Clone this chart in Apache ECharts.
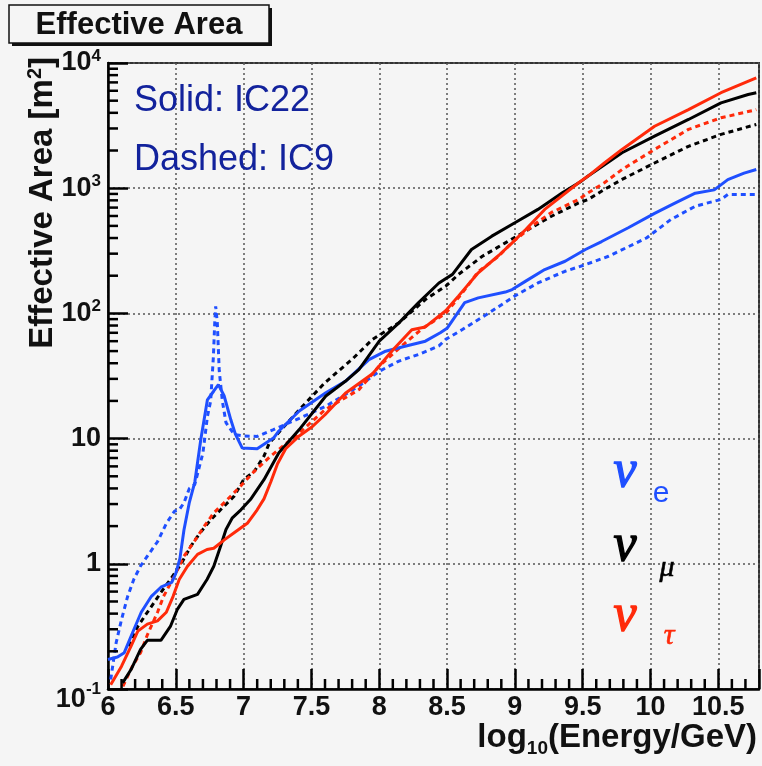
<!DOCTYPE html>
<html><head><meta charset="utf-8">
<script src="https://cdn.jsdelivr.net/npm/echarts@6/dist/echarts.min.js"></script>
<style>html,body{margin:0;padding:0;background:#f5f5f5;}#c{width:762px;height:766px;}</style>
</head><body><div id="c"></div>
<script>
// ---- data (log10(E/GeV), effective area m^2) ----
const IC22_nue = [[6.0,0.172],[6.07,0.18],[6.12,0.195],[6.18,0.28],[6.245,0.41],[6.32,0.55],[6.39,0.65],[6.47,0.71],[6.5,0.84],[6.53,1.1],[6.56,1.86],[6.6,3.1],[6.64,4.5],[6.684,9.8],[6.733,20.4],[6.78,24],[6.814,27],[6.856,22],[6.905,14.2],[6.94,10.8],[6.99,8.4],[7.1,8.3],[7.22,10.1],[7.26,11.5],[7.41,16.6],[7.606,23.2],[7.75,28.7],[7.924,42.7],[8.047,49.9],[8.19,54.7],[8.34,60],[8.45,70],[8.5,76],[8.63,122],[8.73,133],[8.93,148],[8.98,155],[9.08,181],[9.22,224],[9.37,261],[9.52,324],[9.64,375],[9.836,483],[10.03,630],[10.18,760],[10.33,913],[10.47,970],[10.57,1170],[10.69,1320],[10.78,1410]];
const IC9_nue = [[6.02,0.119],[6.06,0.234],[6.1,0.36],[6.145,0.55],[6.19,0.75],[6.24,0.96],[6.29,1.15],[6.365,1.5],[6.43,2.1],[6.49,2.63],[6.525,2.7],[6.56,3.07],[6.6,4.0],[6.64,4.3],[6.7,7.7],[6.733,15],[6.757,20],[6.777,45],[6.787,84],[6.794,114],[6.806,84],[6.82,35],[6.843,20],[6.87,13.4],[6.93,10.8],[7.0,10.5],[7.1,10.4],[7.22,11.8],[7.41,14.5],[7.6,18],[7.75,22.5],[7.85,26.3],[8.0,34.5],[8.145,41.6],[8.29,47],[8.44,55],[8.49,62],[8.61,74],[8.81,101],[9.0,138],[9.17,175],[9.37,217],[9.52,245],[9.69,286],[9.97,400],[10.15,562],[10.33,718],[10.47,787],[10.52,813],[10.57,890],[10.78,890]];
const IC22_numu = [[6.108,0.112],[6.17,0.143],[6.24,0.207],[6.29,0.245],[6.39,0.245],[6.46,0.316],[6.51,0.43],[6.56,0.52],[6.66,0.57],[6.73,0.75],[6.78,0.955],[6.83,1.38],[6.87,1.88],[6.917,2.33],[6.98,2.7],[7.05,3.26],[7.15,4.7],[7.26,7.7],[7.41,11.8],[7.606,21.9],[7.75,28.7],[7.85,35.5],[8.0,60],[8.145,84],[8.29,122],[8.44,175],[8.54,205],[8.68,324],[8.83,414],[9.0,529],[9.17,677],[9.35,918],[9.49,1138],[9.54,1250],[9.79,1918],[10.03,2602],[10.28,3540],[10.52,4800],[10.72,5600],[10.78,5790]];
const IC9_numu = [[6.15,0.22],[6.22,0.316],[6.29,0.41],[6.34,0.49],[6.39,0.59],[6.46,0.75],[6.54,1.0],[6.61,1.38],[6.68,1.77],[6.76,2.26],[6.83,2.7],[6.93,3.47],[7.0,4.7],[7.08,5.5],[7.15,7.25],[7.19,9.25],[7.41,17],[7.6,28],[7.8,43],[7.95,62],[8.145,84],[8.34,129],[8.49,165],[8.585,205],[8.76,286],[8.93,366],[9.1,468],[9.27,597],[9.47,763],[9.54,813],[9.66,977],[9.79,1175],[10.03,1590],[10.28,2160],[10.52,2690],[10.78,3230]];
const IC22_nutau = [[6.02,0.108],[6.1,0.152],[6.17,0.22],[6.22,0.29],[6.29,0.33],[6.365,0.35],[6.43,0.41],[6.48,0.55],[6.525,0.75],[6.586,0.955],[6.66,1.19],[6.73,1.3],[6.78,1.33],[6.86,1.56],[6.93,1.77],[7.03,2.12],[7.1,2.7],[7.15,3.3],[7.2,4.5],[7.25,6.3],[7.31,8.3],[7.41,10.5],[7.5,12.3],[7.6,15.5],[7.75,23],[7.95,33],[8.0,38],[8.1,51],[8.24,74],[8.34,78],[8.49,105],[8.585,138],[8.73,211],[8.88,290],[8.98,366],[9.08,468],[9.22,677],[9.47,1105],[9.54,1250],[9.66,1590],[9.79,2040],[10.03,3125],[10.28,4240],[10.52,5790],[10.78,7600]];
const IC9_nutau = [[6.11,0.105],[6.18,0.152],[6.24,0.195],[6.29,0.27],[6.365,0.41],[6.41,0.55],[6.49,0.8],[6.56,1.15],[6.635,1.5],[6.71,2.0],[6.78,2.55],[6.88,3.26],[6.98,4.2],[7.08,5.5],[7.2,7.25],[7.41,11.1],[7.6,17],[7.85,24.6],[8.0,38],[8.19,58],[8.32,76],[8.49,100],[8.6,140],[8.73,215],[8.88,286],[8.98,370],[9.08,450],[9.15,520],[9.27,640],[9.47,813],[9.54,918],[9.66,1105],[9.79,1410],[10.03,2040],[10.28,2950],[10.52,3650],[10.78,4240]];

const xMin = 6, xMax = 10.8, xStep = 0.5;
const yMin = 0.1, yMax = 10000;
const yTickLabels = {'-1':'{lb|10}{ls|-1}', '0':'{b|1}', '1':'{b|10}', '2':'{b|10}{s|2}', '3':'{b|10}{s|3}', '4':'{b|10}{s|4}'};

// minor tick values (in data units)
const xMinor = [];
for (let i = 61; i < 108; i++) { if (i % 5 !== 0) xMinor.push(i / 10); }
const yMinor = [];
for (let d = -1; d < 4; d++) for (let k = 2; k <= 9; k++) yMinor.push(k * Math.pow(10, d));

const BLUE = '#1f4fff', RED = '#ff2a0a', BLACK = '#000000';
const FONT = 'Liberation Sans, Arial, Helvetica, sans-serif';
const SERIF = 'Liberation Serif, Times New Roman, serif';

const chart = echarts.init(document.getElementById('c'), null, {renderer: 'canvas'});
function line(name, data, color, dashed) {
  return {name, type: 'line', data, showSymbol: false, symbol: 'none',
    silent: true, animation: false, clip: true,
    lineStyle: {color, width: 3, type: dashed ? [5, 4] : 'solid'}, z: dashed ? 3 : 4};
}
const gridDot = {color: '#555', width: 1.5, type: [2, 3]};
const LB = {fontWeight: 'bold', fontFamily: FONT, color: '#111'};
function nu(x, y, color) {
  return {type: 'text', x, y, z: 12, style: {text: 'ν', font: 'italic 52px ' + SERIF, fill: color, stroke: color, lineWidth: 1.3, align: 'center', verticalAlign: 'middle'}};
}
const baseGraphics = [
  {type: 'rect', shape: {x: 12, y: 8, width: 260, height: 38}, style: {fill: '#111'}, z: 10},
  {type: 'rect', shape: {x: 9, y: 5, width: 260, height: 38}, style: {fill: '#f5f5f5', stroke: '#111', lineWidth: 1.5}, z: 11},
  {type: 'text', x: 139, y: 25, z: 12, style: {text: 'Effective Area', font: 'bold 31px ' + FONT, fill: '#111', align: 'center', verticalAlign: 'middle'}},
  {type: 'text', x: 43, y: 57, rotation: Math.PI / 2, z: 12, style: {
    text: '{t|Effective Area [m}{s|2}{t|]}', align: 'right', verticalAlign: 'middle',
    rich: {t: {font: 'bold 33px ' + FONT, fill: '#111'}, s: {font: 'bold 20px ' + FONT, fill: '#111', padding: [0, 0, 16, 0]}}}},
  {type: 'text', x: 757, y: 738, z: 12, style: {
    text: '{t|log}{s|10}{t|(Energy/GeV)}', align: 'right', verticalAlign: 'middle',
    rich: {t: {font: 'bold 33px ' + FONT, fill: '#111'}, s: {font: 'bold 19px ' + FONT, fill: '#111', padding: [22, 0, 0, 0]}}}},
  {type: 'text', x: 134, y: 101, z: 12, style: {text: 'Solid: IC22', font: '36px ' + FONT, fill: '#12229c', align: 'left', verticalAlign: 'middle'}},
  {type: 'text', x: 134, y: 160, z: 12, style: {text: 'Dashed: IC9', font: '36px ' + FONT, fill: '#12229c', align: 'left', verticalAlign: 'middle'}},
  nu(625, 472, BLUE),
  {type: 'text', x: 661, y: 494, z: 12, style: {text: 'e', font: '30px ' + FONT, fill: BLUE, align: 'center', verticalAlign: 'middle'}},
  nu(625, 546, BLACK),
  {type: 'text', x: 667, y: 568, z: 12, style: {text: 'μ', font: 'italic 30px ' + SERIF, fill: BLACK, stroke: BLACK, lineWidth: 0.6, align: 'center', verticalAlign: 'middle'}},
  nu(625, 616, RED),
  {type: 'text', x: 669, y: 636, z: 12, style: {text: 'τ', font: 'italic 30px ' + SERIF, fill: RED, stroke: RED, lineWidth: 0.6, align: 'center', verticalAlign: 'middle'}}
];

chart.setOption({
  backgroundColor: '#f5f5f5',
  animation: false,
  grid: {left: 108, right: 3, top: 63, bottom: 77, show: true, borderColor: '#333', borderWidth: 2, backgroundColor: 'transparent'},
  xAxis: {
    type: 'value', min: xMin, max: xMax, interval: xStep,
    axisLine: {show: true, onZero: false, lineStyle: {color: '#000', width: 2.5}},
    axisTick: {show: true, inside: true, length: 20, lineStyle: {color: '#000', width: 2.5}},
    splitLine: {show: true, lineStyle: gridDot},
    axisLabel: {margin: 5, color: '#111', fontFamily: FONT, fontWeight: 'bold', fontSize: 27,
      formatter: v => (Math.abs(v * 2 - Math.round(v * 2)) < 1e-6 && v < xMax - 0.01) ? String(v) : ''}
  },
  yAxis: {
    type: 'log', logBase: 10, min: yMin, max: yMax,
    axisLine: {show: true, onZero: false, lineStyle: {color: '#000', width: 2.5}},
    axisTick: {show: true, inside: true, length: 20, lineStyle: {color: '#000', width: 2.5}},
    splitLine: {show: true, lineStyle: gridDot},
    axisLabel: {margin: 7, color: '#111', fontFamily: FONT, fontWeight: 'bold',
      formatter: v => yTickLabels[String(Math.round(Math.log10(v)))] || '',
      rich: {
        b: Object.assign({fontSize: 27}, LB),
        s: Object.assign({fontSize: 17, padding: [0, 0, 14, 0]}, LB),
        lb: Object.assign({fontSize: 27, padding: [22, 0, 0, 0]}, LB),
        ls: Object.assign({fontSize: 17}, LB)
      }}
  },
  series: [
    line('IC9 nu_e', IC9_nue, BLUE, true),
    line('IC9 nu_mu', IC9_numu, BLACK, true),
    line('IC9 nu_tau', IC9_nutau, RED, true),
    line('IC22 nu_e', IC22_nue, BLUE, false),
    line('IC22 nu_mu', IC22_numu, BLACK, false),
    line('IC22 nu_tau', IC22_nutau, RED, false)
  ]
});

// minor ticks placed through the chart's own axis scales
const bottomY = chart.convertToPixel({yAxisIndex: 0}, yMin);
const leftX = chart.convertToPixel({xAxisIndex: 0}, xMin);
const minorTicks = [];
xMinor.forEach(v => {
  const px = chart.convertToPixel({xAxisIndex: 0}, v);
  minorTicks.push({type: 'line', z: 9, shape: {x1: px, y1: bottomY, x2: px, y2: bottomY - 10}, style: {stroke: '#000', lineWidth: 2.5}});
});
yMinor.forEach(v => {
  const py = chart.convertToPixel({yAxisIndex: 0}, v);
  minorTicks.push({type: 'line', z: 9, shape: {x1: leftX, y1: py, x2: leftX + 10, y2: py}, style: {stroke: '#000', lineWidth: 2.5}});
});
chart.setOption({graphic: baseGraphics.concat(minorTicks)});
</script></body></html>
